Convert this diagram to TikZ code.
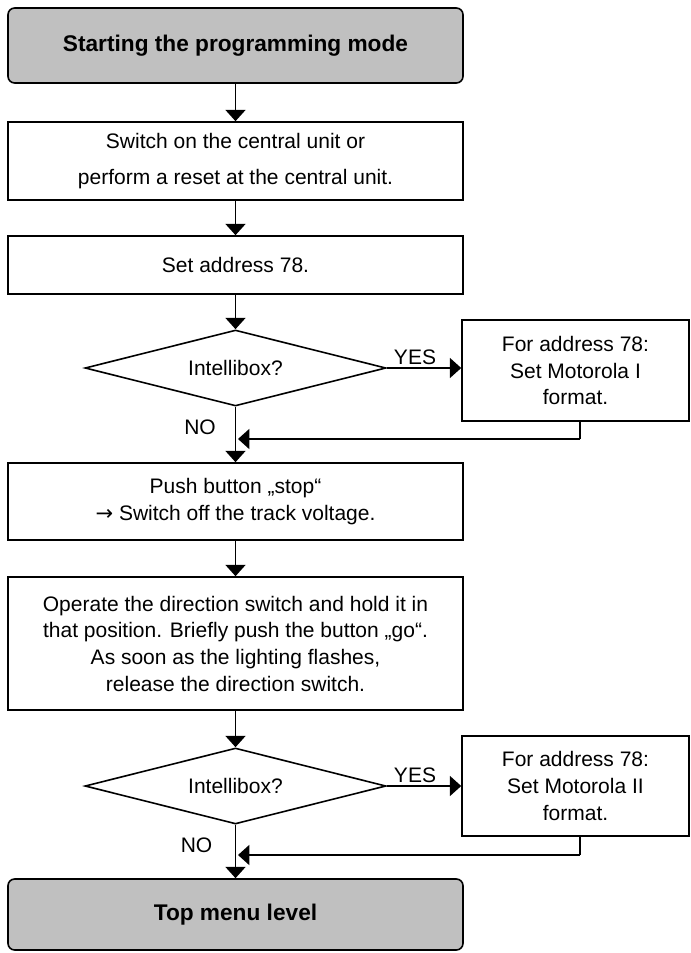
\documentclass[tikz,border=0pt]{standalone}
\usepackage{fontspec}
\setmainfont{Liberation Sans}
\newfontfamily\arrowfont{DejaVu Sans}
\usetikzlibrary{arrows.meta,shapes.geometric}
\definecolor{menu_grey}{RGB}{192, 192, 192}
\tikzstyle{menu}=[rectangle,rounded corners=5pt,fill=menu_grey,draw=black,
  line width=1.2pt,inner sep=0pt,minimum width=341.25pt,
  font=\fontsize{17}{20}\selectfont\bfseries]
\tikzstyle{proc}=[rectangle,fill=white,draw=black,line width=1.2pt,
  inner sep=0pt,minimum width=341.25pt,align=center]
\tikzstyle{side}=[rectangle,fill=white,draw=black,line width=1.2pt,
  inner sep=0pt,minimum width=170.25pt,align=center]
\tikzstyle{decision}=[diamond,aspect=4,draw=black,line width=1.2pt,
  inner sep=0pt,minimum width=225.75pt,minimum height=57pt]
\tikzstyle{flow}=[-{Triangle[length=8.5pt,width=15pt]},line width=1.2pt]
\tikzstyle{none}=[]

\begin{document}
\begin{tikzpicture}[x=0.75pt,y=-0.75pt,font=\fontsize{15.75}{20}\selectfont]
            \useasboundingbox (0, 0) rectangle (691, 953);
            \node [style=menu, minimum height=56.25pt] (0) at (235.5, 45.5) {Starting the programming mode};
            \node [style=proc, minimum height=58.5pt] (1) at (235.5, 161) {Switch on the central unit or\\[6.75pt]perform a reset at the central unit.};
            \node [style=proc, minimum height=43.5pt] (2) at (235.5, 265) {Set address 78.};
            \node [style=decision] (3) at (235.5, 368) {Intellibox?};
            \node [style=side, minimum height=75.75pt] (4) at (575.5, 370.5) {For address 78:\\Set Motorola I\\format.};
            \node [style=none] (5) at (415, 357.5) {YES};
            \node [style=none] (6) at (200, 427.5) {NO};
            \node [style=none] (7) at (580, 439) {};
            \node [style=none] (8) at (238, 439) {};
            \node [style=proc, minimum height=57.75pt] (9) at (235.5, 501.5) {Push button „stop“\\{\arrowfont →} Switch off the track voltage.};
            \node [style=proc, minimum height=99.75pt] (10) at (235.5, 643.5) {Operate the direction switch and hold it in\\that position. Briefly push the button „go“.\\As soon as the lighting flashes,\\release the direction switch.};
            \node [style=decision] (11) at (235.5, 786) {Intellibox?};
            \node [style=side, minimum height=75pt] (12) at (575.5, 786) {For address 78:\\Set Motorola II\\format.};
            \node [style=none] (13) at (415, 775.5) {YES};
            \node [style=none] (14) at (196.5, 845.5) {NO};
            \node [style=none] (15) at (580, 855) {};
            \node [style=none] (16) at (238, 855) {};
            \node [style=menu, minimum height=53.25pt] (17) at (235.5, 914.5) {Top menu level};
            \draw [style=flow] (0) to (1);
            \draw [style=flow] (1) to (2);
            \draw [style=flow] (2) to (3);
            \draw [style=flow] (3.east) to (3.east -| 4.west);
            \draw [style=flow] (3) to (9);
            \draw [line width=1.2pt] (4.south -| 7.center) to (7.center);
            \draw [style=flow] (7.center) to (8.center);
            \draw [style=flow] (9) to (10);
            \draw [style=flow] (10) to (11);
            \draw [style=flow] (11.east) to (11.east -| 12.west);
            \draw [style=flow] (11) to (17);
            \draw [line width=1.2pt] (12.south -| 15.center) to (15.center);
            \draw [style=flow] (15.center) to (16.center);
    \end{tikzpicture}
\end{document}
